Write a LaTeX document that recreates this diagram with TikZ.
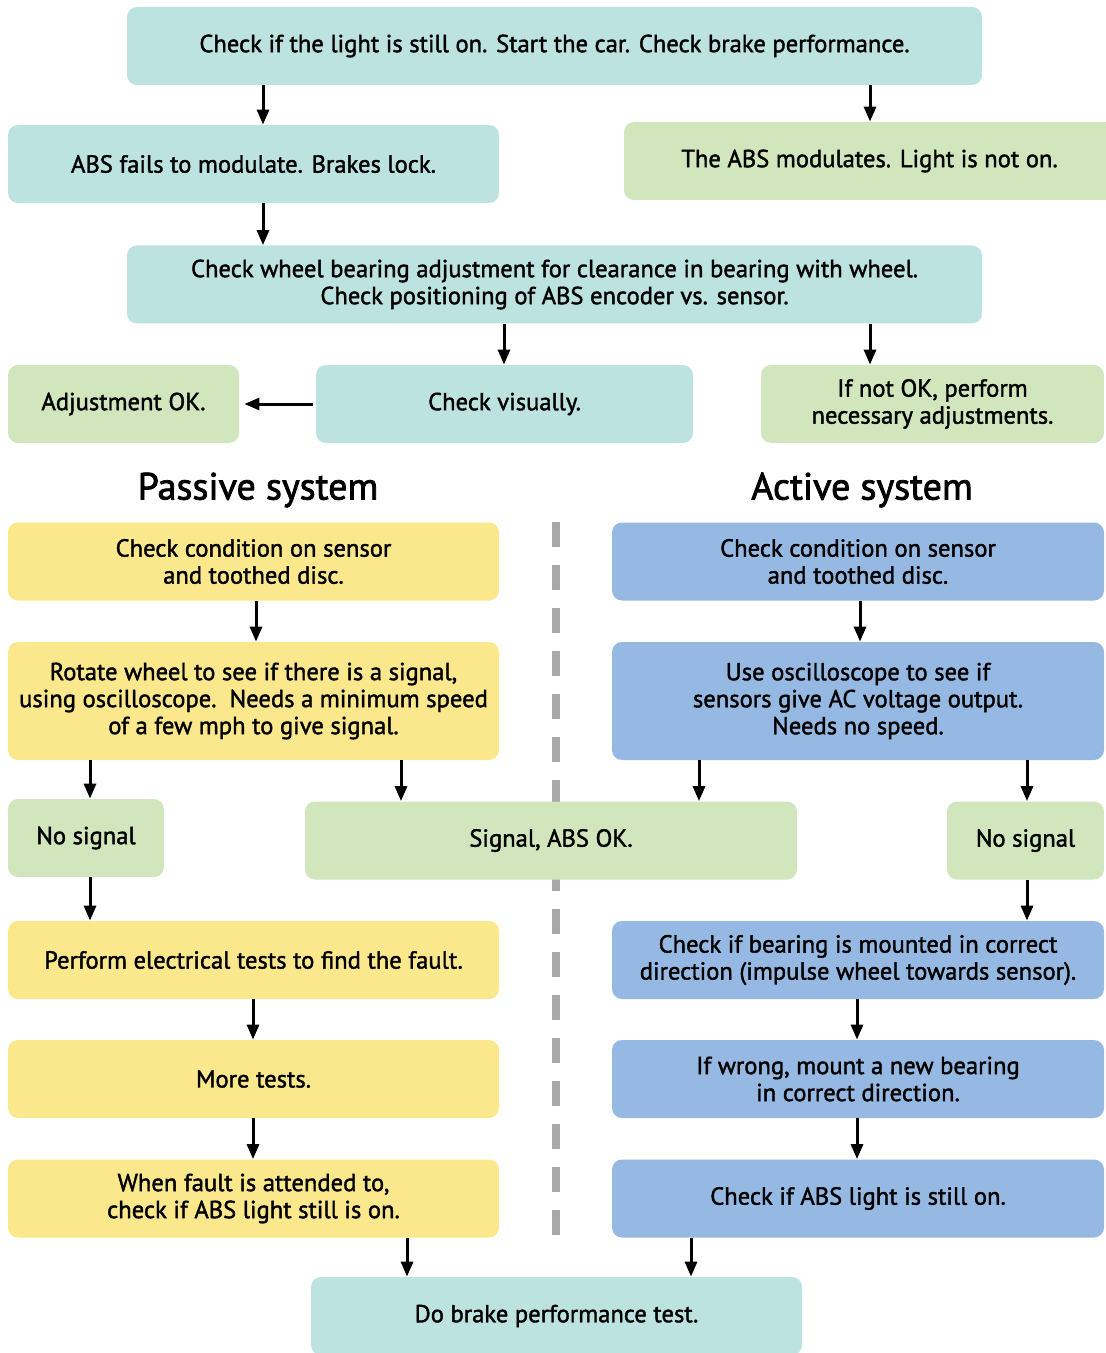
\documentclass[tikz,border=0pt]{standalone}
\usepackage{fontspec}
\setmainfont{PT Sans}[FakeBold=1.6]
\newfontfamily\headfont{PT Sans}[FakeBold=2]
\usetikzlibrary{positioning, arrows.meta, calc}
\definecolor{ABSteal}{RGB}{188, 227, 223}
\definecolor{ABSgreen}{RGB}{209, 230, 188}
\definecolor{ABSyellow}{RGB}{252, 232, 140}
\definecolor{ABSblue}{RGB}{149, 185, 227}
\definecolor{ABSgray}{RGB}{167, 168, 170}
\tikzset{
  box/.style={rectangle, rounded corners=5pt, draw=none, fill=ABSteal,
    minimum height=39pt, align=center, inner sep=2pt, font=\fontsize{12.3}{13.5}\selectfont},
  tealbox/.style={box, fill=ABSteal},
  greenbox/.style={box, fill=ABSgreen},
  passbox/.style={box, fill=ABSyellow, minimum width=245.5pt},
  actbox/.style={box, fill=ABSblue, minimum width=246pt},
  heading/.style={font=\headfont\fontsize{19}{20}\selectfont},
  flow/.style={-{Triangle[length=7.5pt, width=6pt]}, line width=1.5pt},
  divider/.style={line width=4pt, ABSgray, dash pattern=on 12.5pt off 9pt},
}

\begin{document}
\begin{tikzpicture}[x=0.5pt, y=-0.5pt]
  \useasboundingbox (0,0) rectangle (1106,1353);
  % divider between the two systems
  \draw[divider] (556,522) -- (556,1238);

  \node[tealbox, minimum width=427.5pt] (start) at (554.5,46) {Check if the light is still on. Start the car. Check brake performance.};
  \node[tealbox, minimum width=245.5pt] (fails) at (253.5,164) {ABS fails to modulate. Brakes lock.};
  \node[greenbox, minimum width=245.5pt] (modul) at (869.5,161) {The ABS modulates. Light is not on.};
  \node[tealbox, minimum width=427.5pt] (bearing) at (554.5,284.5) {Check wheel bearing adjustment for clearance in bearing with wheel.\\Check positioning of ABS encoder vs. sensor.};
  \node[greenbox, minimum width=115.5pt] (adjok) at (123.5,404) {Adjustment OK.};
  \node[tealbox, minimum width=188.5pt] (visual) at (504.5,404) {Check visually.};
  \node[greenbox, minimum width=171.5pt] (notok) at (932.5,404) {If not OK, perform\\necessary adjustments.};

  \node[heading] (passive) at (258,490) {Passive system};
  \node[heading] (active) at (862,490) {Active system};

  % passive side
  \node[passbox] (pcheck) at (253.5,561.5) {Check condition on sensor\\and toothed disc.};
  \node[passbox, minimum height=59pt] (rotate) at (253.5,701) {Rotate wheel to see if there is a signal,\\using oscilloscope.\ \ Needs a minimum speed\\of a few mph to give signal.};
  \node[greenbox, minimum width=78pt] (nosigL) at (86,838) {No signal};
  \node[greenbox, minimum width=246pt] (sigok) at (551,840.5) {Signal, ABS OK.};
  \node[passbox] (elec) at (253.5,960) {Perform electrical tests to find the fault.};
  \node[passbox] (more) at (253.5,1079) {More tests.};
  \node[passbox] (fault) at (253.5,1198.5) {When fault is attended to,\\check if ABS light still is on.};

  % active side
  \node[actbox] (acheck) at (858,561.5) {Check condition on sensor\\and toothed disc.};
  \node[actbox, minimum height=59pt] (scope) at (858,701) {Use oscilloscope to see if\\sensors give AC voltage output.\\Needs no speed.};
  \node[greenbox, minimum width=78.5pt] (nosigR) at (1025.5,840.5) {No signal};
  \node[actbox] (mount) at (858,960) {Check if bearing is mounted in correct\\direction (impulse wheel towards sensor).};
  \node[actbox] (wrong) at (858,1079) {If wrong, mount a new bearing\\in correct direction.};
  \node[actbox] (light) at (858,1198.5) {Check if ABS light is still on.};

  \node[tealbox, minimum width=245.5pt] (brake) at (556.5,1316) {Do brake performance test.};

  % connectors
  \draw[flow] (start.south -| 263,0) -- (fails.north -| 263,0);
  \draw[flow] (start.south -| 870,0) -- (modul.north -| 870,0);
  \draw[flow] (fails.south -| 263,0) -- (bearing.north -| 263,0);
  \draw[flow] (bearing.south -| 504,0) -- (visual.north -| 504,0);
  \draw[flow] (bearing.south -| 870,0) -- (notok.north -| 870,0);
  \draw[flow] ([xshift=-1.5pt]visual.west) -- ([xshift=2.5pt]adjok.east);
  \draw[flow] (pcheck.south -| 256,0) -- (rotate.north -| 256,0);
  \draw[flow] (rotate.south -| 90,0) -- (nosigL.north -| 90,0);
  \draw[flow] (rotate.south -| 401,0) -- (sigok.north -| 401,0);
  \draw[flow] (nosigL.south -| 90,0) -- (elec.north -| 90,0);
  \draw[flow] (elec.south -| 253,0) -- (more.north -| 253,0);
  \draw[flow] (more.south -| 253,0) -- (fault.north -| 253,0);
  \draw[flow] (fault.south -| 407,0) -- (brake.north -| 407,0);
  \draw[flow] (acheck.south -| 860,0) -- (scope.north -| 860,0);
  \draw[flow] (scope.south -| 699,0) -- (sigok.north -| 699,0);
  \draw[flow] (scope.south -| 1027,0) -- (nosigR.north -| 1027,0);
  \draw[flow] (nosigR.south -| 1027,0) -- (mount.north -| 1027,0);
  \draw[flow] (mount.south -| 857,0) -- (wrong.north -| 857,0);
  \draw[flow] (wrong.south -| 857,0) -- (light.north -| 857,0);
  \draw[flow] (light.south -| 691,0) -- (brake.north -| 691,0);
\end{tikzpicture}
\end{document}
